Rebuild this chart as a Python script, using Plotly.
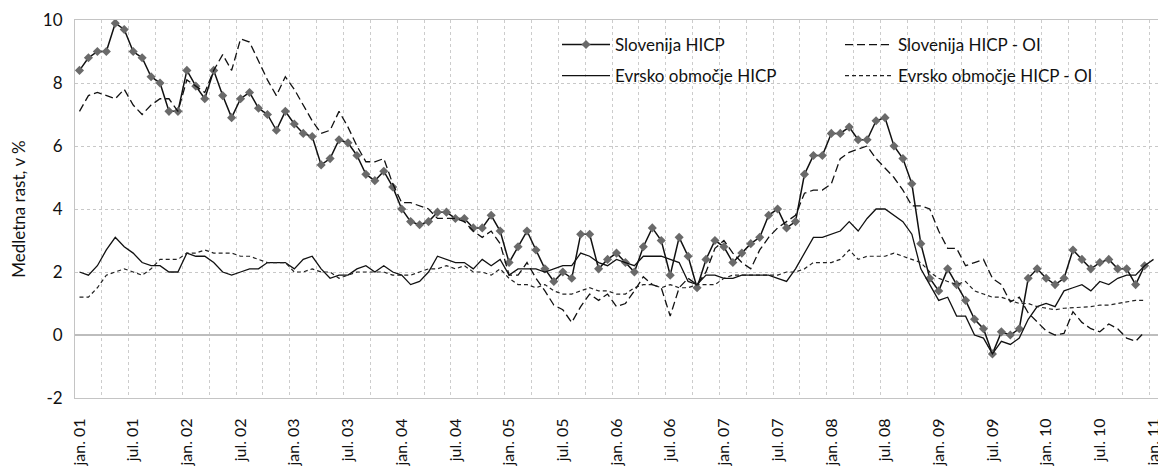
import plotly.graph_objects as go

# ---- data (monthly, jan. 2001 .. jan. 2011) ----
months = [f"{y}-{m:02d}" for y in range(2001, 2011) for m in range(1, 13)] + ["2011-01"]

slo_hicp = [
    8.4, 8.8, 9.0, 9.0, 9.9, 9.7, 9.0, 8.8, 8.2, 8.0, 7.1, 7.1,
    8.4, 7.9, 7.5, 8.4, 7.6, 6.9, 7.5, 7.7, 7.2, 7.0, 6.5, 7.1,
    6.7, 6.4, 6.3, 5.4, 5.6, 6.2, 6.1, 5.7, 5.1, 4.9, 5.2, 4.7,
    4.0, 3.6, 3.5, 3.6, 3.9, 3.9, 3.7, 3.7, 3.4, 3.4, 3.8, 3.3,
    2.3, 2.8, 3.3, 2.7, 2.1, 1.7, 2.0, 1.8, 3.2, 3.2, 2.1, 2.4,
    2.6, 2.3, 2.0, 2.8, 3.4, 3.0, 1.9, 3.1, 2.5, 1.5, 2.4, 3.0,
    2.8, 2.3, 2.6, 2.9, 3.1, 3.8, 4.0, 3.4, 3.6, 5.1, 5.7, 5.7,
    6.4, 6.4, 6.6, 6.2, 6.2, 6.8, 6.9, 6.0, 5.6, 4.8, 2.9, 1.8,
    1.4, 2.1, 1.6, 1.1, 0.5, 0.2, -0.6, 0.1, 0.0, 0.2, 1.8, 2.1,
    1.8, 1.6, 1.8, 2.7, 2.4, 2.1, 2.3, 2.4, 2.1, 2.1, 1.6, 2.2,
]

slo_hicp_oi = [
    7.1, 7.6, 7.7, 7.6, 7.5, 7.8, 7.3, 7.0, 7.3, 7.5, 7.5, 7.1,
    8.1, 7.9, 7.7, 8.4, 8.9, 8.4, 9.4, 9.3, 8.7, 8.1, 7.6, 8.2,
    7.8, 7.3, 6.8, 6.4, 6.5, 7.1, 6.6, 6.0, 5.5, 5.5, 5.6, 4.8,
    4.2, 4.2, 4.1, 4.0, 3.7, 3.7, 3.7, 3.6, 3.3, 3.1, 3.3, 2.9,
    1.9, 1.9, 2.3, 1.8, 1.4, 0.95, 0.8, 0.4, 0.9, 1.3, 1.1, 1.3,
    0.9, 1.0, 1.4, 1.85, 1.6, 1.5, 0.6, 1.5, 1.8, 1.6, 2.0, 2.75,
    3.0, 2.6, 2.3, 2.1, 2.7, 3.1, 3.4, 3.6, 3.8, 4.5, 4.6, 4.6,
    4.8, 5.6, 5.8, 5.9, 6.0, 5.6, 5.3, 5.0, 4.6, 4.1, 4.1, 4.0,
    3.3, 2.75, 2.75, 2.2, 2.3, 2.4, 1.8, 1.6, 1.05, 1.2, 0.7, 0.4,
    0.13, 0.0, 0.05, 0.74, 0.4, 0.2, 0.1, 0.35, 0.2, -0.1, -0.2, 0.1,
]

ea_hicp = [
    2.0, 1.9, 2.2, 2.7, 3.1, 2.8, 2.6, 2.3, 2.2, 2.2, 2.0, 2.0,
    2.6, 2.5, 2.5, 2.3, 2.0, 1.9, 2.0, 2.1, 2.1, 2.3, 2.3, 2.3,
    2.1, 2.4, 2.5, 2.1, 1.8, 1.9, 1.9, 2.1, 2.2, 2.0, 2.2, 2.0,
    1.9, 1.6, 1.7, 2.0, 2.5, 2.4, 2.3, 2.3, 2.1, 2.4, 2.2, 2.4,
    1.9, 2.1, 2.1, 2.1, 2.0, 2.1, 2.2, 2.2, 2.6, 2.5, 2.3, 2.2,
    2.4, 2.3, 2.2, 2.5, 2.5, 2.5, 2.4, 2.3, 1.7, 1.6, 1.9, 1.9,
    1.8, 1.8, 1.9, 1.9, 1.9, 1.9, 1.8, 1.7, 2.1, 2.6, 3.1, 3.1,
    3.2, 3.3, 3.6, 3.3, 3.7, 4.0, 4.0, 3.8, 3.6, 3.2, 2.1, 1.6,
    1.1, 1.2, 0.6, 0.6, 0.0, -0.1, -0.6, -0.2, -0.3, -0.1, 0.5, 0.9,
    1.0, 0.9, 1.4, 1.5, 1.6, 1.4, 1.7, 1.6, 1.8, 1.9, 1.9, 2.2,
    2.4,
]

ea_hicp_oi = [
    1.2, 1.2, 1.5, 1.9, 2.0, 2.1, 2.0, 1.9, 2.1, 2.4, 2.4, 2.4,
    2.6, 2.6, 2.7, 2.6, 2.6, 2.6, 2.5, 2.5, 2.4, 2.3, 2.3, 2.3,
    2.0, 2.0, 2.1, 2.0, 2.0, 1.8, 1.9, 2.0, 2.0, 2.0, 2.0, 1.9,
    1.9, 1.9, 2.0, 2.1, 2.1, 2.2, 2.1, 2.2, 2.0, 2.0, 1.9, 2.1,
    1.8, 1.6, 1.6, 1.5, 1.6, 1.4, 1.3, 1.3, 1.4, 1.5, 1.4, 1.4,
    1.3, 1.3, 1.5, 1.6, 1.6, 1.5, 1.6, 1.5, 1.5, 1.6, 1.6, 1.6,
    1.8, 1.9, 1.9, 1.9, 1.9, 1.9, 1.9, 2.0, 2.0, 2.1, 2.3, 2.3,
    2.3, 2.4, 2.7, 2.4, 2.5, 2.5, 2.5, 2.6, 2.5, 2.4, 2.3, 2.0,
    1.8, 1.7, 1.6, 1.7, 1.4, 1.3, 1.2, 1.2, 1.1, 1.0, 1.0, 0.9,
    0.85, 0.8, 0.85, 0.87, 0.87, 0.9, 0.95, 0.95, 1.0, 1.05, 1.1, 1.1,
]

tick_labels = [
    "jan. 01", "jul. 01", "jan. 02", "jul. 02", "jan. 03", "jul. 03",
    "jan. 04", "jul. 04", "jan. 05", "jul. 05", "jan. 06", "jul. 06",
    "jan. 07", "jul. 07", "jan. 08", "jul. 08", "jan. 09", "jul. 09",
    "jan. 10", "jul. 10", "jan. 11",
]

y_ticks = [-2, 0, 2, 4, 6, 8, 10]
y_tick_labels = ["-2", "0", "2", "4", "6", "8", "10"]

names = ["Slovenija HICP", "Slovenija HICP - OI", "Evrsko območje HICP", "Evrsko območje HICP - OI"]

FONT = "Lato"
FS = 17
idx = list(range(len(months)))

fig = go.Figure()
fig.add_trace(go.Scatter(
    x=idx[:len(slo_hicp)], y=slo_hicp, name=names[0], mode="lines+markers",
    line=dict(color="#111111", width=1.5),
    marker=dict(symbol="diamond", size=7, color="#6a6a6a"),
    legend="legend",
))
fig.add_trace(go.Scatter(
    x=idx[:len(slo_hicp_oi)], y=slo_hicp_oi, name=names[1], mode="lines",
    line=dict(color="#111111", width=1.3, dash="8px,4px"),
    legend="legend",
))
fig.add_trace(go.Scatter(
    x=idx[:len(ea_hicp)], y=ea_hicp, name=names[2], mode="lines",
    line=dict(color="#111111", width=1.3),
    legend="legend2",
))
fig.add_trace(go.Scatter(
    x=idx[:len(ea_hicp_oi)], y=ea_hicp_oi, name=names[3], mode="lines",
    line=dict(color="#222222", width=1.2, dash="4px,3px"),
    legend="legend2",
))

# The page body has an 8px default margin, so the figure is 8px smaller
# and the margins are reduced accordingly.
OFF = 8
W, H = 1166 - OFF, 466 - OFF
PL, PR, PT, PB = 75, 1158, 20, 398          # plot area in screen pixels
L, T = PL - OFF, PT - OFF
R, B = W + OFF - PR, H + OFF - PB
pw, ph = PR - PL, PB - PT


def px2x(px):
    return (px - PL) / pw


def py2y(py):
    return (PB - py) / ph


legend_common = dict(
    orientation="h", xanchor="left", yanchor="middle",
    bgcolor="rgba(0,0,0,0)", borderwidth=0,
    font=dict(family=FONT, size=FS, color="#111111"),
    itemwidth=48, entrywidth=220, entrywidthmode="pixels",
    traceorder="normal",
)

fig.update_layout(
    width=W, height=H,
    margin=dict(l=L, r=R, t=T, b=B, autoexpand=False),
    paper_bgcolor="white", plot_bgcolor="white",
    font=dict(family=FONT, size=FS, color="#111111"),
    showlegend=True,
    legend=dict(x=px2x(557), y=py2y(45), **legend_common),
    legend2=dict(x=px2x(557), y=py2y(76), **legend_common),
    shapes=[dict(
        type="rect", xref="paper", yref="paper",
        x0=px2x(545), x1=px2x(1110), y0=py2y(90), y1=py2y(30),
        fillcolor="white", line=dict(width=0), layer="between",
    )],
    xaxis=dict(
        range=[-0.5, 120.5],
        automargin=False,
        tickmode="array",
        tickvals=idx[::6],
        ticktext=tick_labels,
        tickangle=-90,
        tickfont=dict(family=FONT, size=16, color="#111111"),
        ticks="outside", ticklen=13, tickcolor="rgba(0,0,0,0)",
        showgrid=False,
        zeroline=False,
        showline=True, mirror=True, linecolor="#c4c4c4", linewidth=1,
        minor=dict(
            tickmode="array",
            tickvals=[i + 2.5 for i in range(0, 118, 3)],
            showgrid=True, gridcolor="#cccccc", griddash="dot", gridwidth=1,
            ticks="",
        ),
    ),
    yaxis=dict(
        range=[-2, 10],
        automargin=False,
        tickmode="array", tickvals=y_ticks, ticktext=y_tick_labels,
        tickfont=dict(family=FONT, size=FS, color="#111111"),
        ticks="", ticklabelstandoff=8,
        showgrid=True, gridcolor="#c8c8c8", griddash="dot", gridwidth=1,
        zeroline=True, zerolinecolor="#bdbdbd", zerolinewidth=2,
        showline=True, mirror=True, linecolor="#c4c4c4", linewidth=1,
        title=dict(text="Medletna rast, v %", font=dict(family=FONT, size=FS, color="#111111"), standoff=20),
    ),
)

fig.write_html("out.html")
